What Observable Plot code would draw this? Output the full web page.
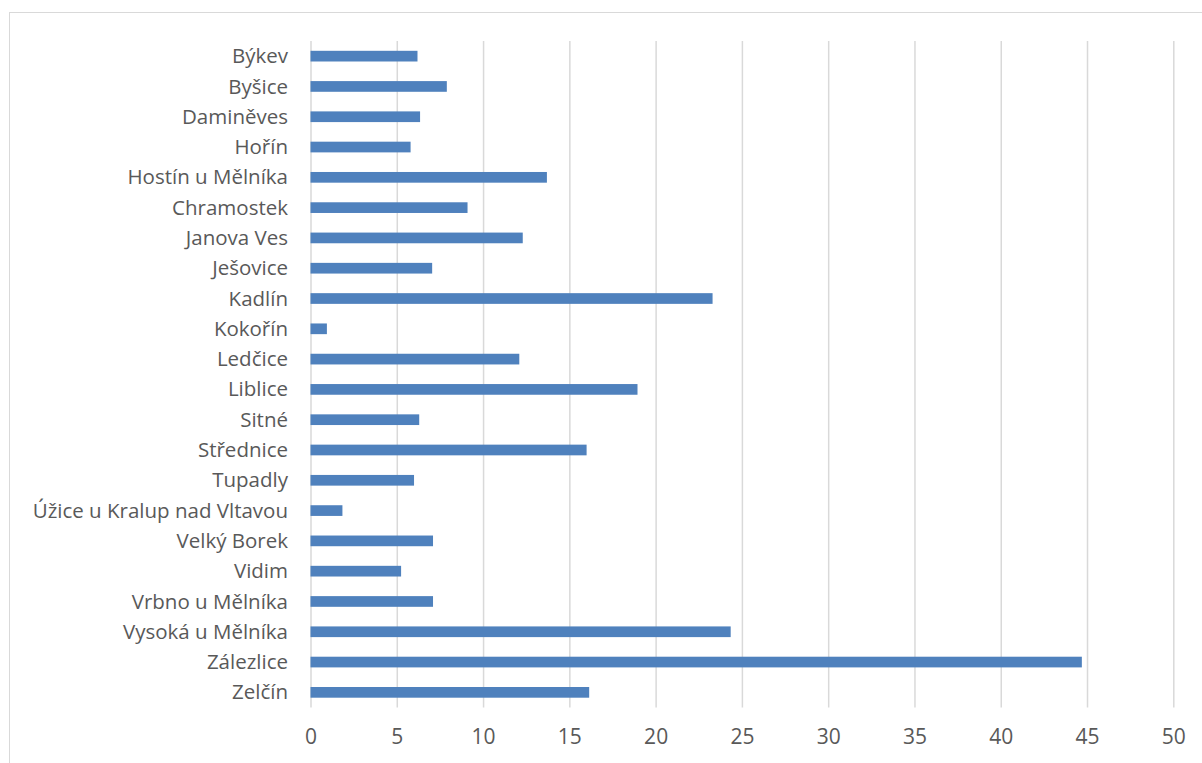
<!DOCTYPE html>
<html>
<head>
<meta charset="utf-8">
<script src="https://cdn.jsdelivr.net/npm/d3@7"></script>
<script src="https://cdn.jsdelivr.net/npm/@observablehq/plot@0.6"></script>
<style>
  html, body { margin: 0; padding: 0; background: #fff; }
  #wrap { position: relative; width: 1202px; height: 763px; overflow: hidden; }
  #border { position: absolute; left: 9px; top: 12px; width: 1210px; height: 770px;
            border: 1.3px solid #d9d9d9; box-sizing: border-box; pointer-events: none; }
  #wrap svg { position: absolute; left: 0; top: 0; }
</style>
</head>
<body>
<div id="wrap"><div id="border"></div></div>
<script>
// Municipalities (top to bottom) and their values
const obce = [
  "Býkev", "Byšice", "Daminěves", "Hořín", "Hostín u Mělníka", "Chramostek",
  "Janova Ves", "Ješovice", "Kadlín", "Kokořín", "Ledčice", "Liblice", "Sitné",
  "Střednice", "Tupadly", "Úžice u Kralup nad Vltavou", "Velký Borek", "Vidim",
  "Vrbno u Mělníka", "Vysoká u Mělníka", "Zálezlice", "Zelčín"
];
const hodnoty = [
  6.2, 7.9, 6.35, 5.8, 13.7, 9.1,
  12.3, 7.05, 23.3, 0.95, 12.1, 18.95, 6.3,
  16.0, 6.0, 1.85, 7.1, 5.25,
  7.1, 24.35, 44.7, 16.15
];
const xTicks = [0, 5, 10, 15, 20, 25, 30, 35, 40, 45, 50];

const data = obce.map((obec, i) => ({obec, hodnota: hodnoty[i]}));

const textColor = "#595959";

const chart = Plot.plot({
  width: 1202,
  height: 763,
  marginLeft: 310.5,
  marginRight: 28.7,
  marginTop: 41,
  marginBottom: 55.5,
  style: {fontFamily: "'Open Sans', Lato, sans-serif", color: textColor, background: "transparent"},
  x: {domain: [0, 50], ticks: xTicks, label: null},
  y: {domain: obce, paddingInner: 0.647, paddingOuter: 0.3235, round: false, label: null},
  marks: [
    Plot.gridX(xTicks, {stroke: "#d9d9d9", strokeOpacity: 1, strokeWidth: 1.5}),
    Plot.barX(data, {y: "obec", x: "hodnota", fill: "#4f81bd"}),
    Plot.axisX(xTicks, {tickSize: 0, tickPadding: 21, fontSize: 21, fill: textColor}),
    Plot.axisY({tickSize: 0, tickPadding: 23, fontSize: 20.5, fill: textColor})
  ]
});

document.getElementById("wrap").appendChild(chart);
</script>
</body>
</html>
